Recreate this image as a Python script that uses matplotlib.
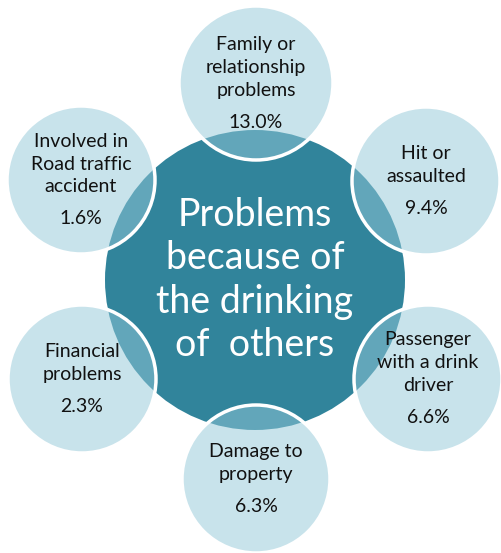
import matplotlib
matplotlib.use('Agg')
import matplotlib.pyplot as plt
from matplotlib.patches import Circle

# centre bubble title and the six outer bubbles
title_lines = ["Problems", "because of", "the drinking", "of  others"]
labels = [
    ["Family or", "relationship", "problems"],
    ["Hit or", "assaulted"],
    ["Passenger", "with a drink", "driver"],
    ["Damage to", "property"],
    ["Financial", "problems"],
    ["Involved in", "Road traffic", "accident"],
]
values = [13.0, 9.4, 6.6, 6.3, 2.3, 1.6]

centre = (255, 280)
centre_r = 150
# outer bubble centres (pixel coords, y down) and radii
outer = [(256, 83), (426, 181), (428, 379), (256, 479), (82, 379), (81, 180)]
outer_r = [77, 74, 74, 74, 74, 74]
dark = '#31849B'
light = '#93C9D9'

fig = plt.figure(figsize=(5.02, 5.53), dpi=100)
ax = fig.add_axes([0, 0, 1, 1])
ax.set_xlim(0, 502)
ax.set_ylim(553, 0)
ax.set_aspect('equal')
ax.axis('off')

ax.add_patch(Circle(centre, centre_r, facecolor=dark, edgecolor='none', zorder=1))
for (cx, cy), r in zip(outer, outer_r):
    ax.add_patch(Circle((cx, cy), r, facecolor=light, alpha=0.5,
                        edgecolor='none', zorder=2))
    ax.add_patch(Circle((cx, cy), r, facecolor='none', edgecolor='white',
                        linewidth=2.5, zorder=3))

font = ['Lato', 'DejaVu Sans']
line_h = 43.5
y0 = centre[1] - line_h * (len(title_lines) - 1) / 2
for i, t in enumerate(title_lines):
    ax.text(centre[0], y0 + i * line_h, t, ha='center', va='center',
            color='white', fontsize=27, family=font, zorder=4)

small_h = 23
pct_gap = 32
for (cx, cy), lab, v in zip(outer, labels, values):
    n = len(lab)
    total = (n - 1) * small_h + pct_gap
    top = cy - total / 2
    for j, t in enumerate(lab):
        ax.text(cx, top + j * small_h, t, ha='center', va='center',
                color='#111111', fontsize=14, family=font, zorder=4)
    ax.text(cx, top + (n - 1) * small_h + pct_gap, f"{v:.1f}%", ha='center',
            va='center', color='#111111', fontsize=14, family=font, zorder=4)

fig.savefig('out.png', dpi=100)
